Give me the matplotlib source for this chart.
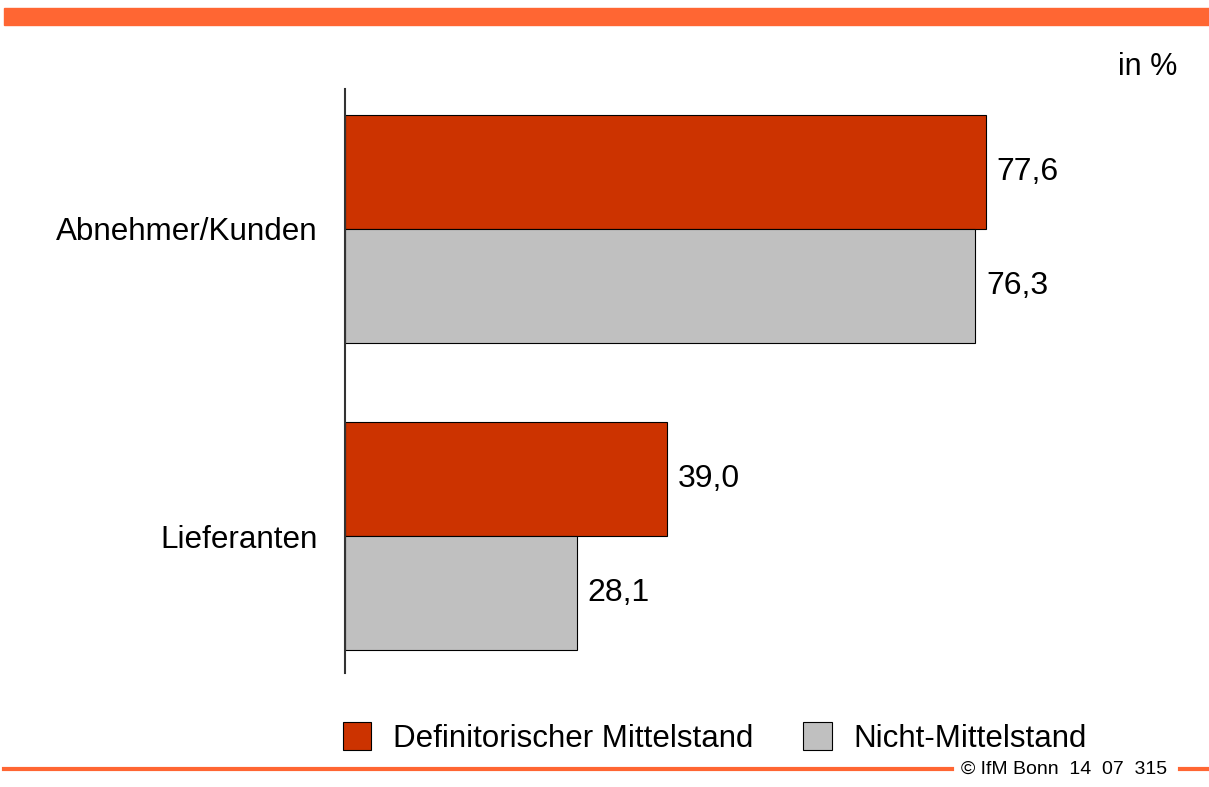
import numpy as np
import matplotlib.pyplot as plt
from matplotlib.patches import Rectangle
from matplotlib.lines import Line2D

plt.rcParams['font.family'] = ['Liberation Sans', 'DejaVu Sans']

categories = ['Abnehmer/Kunden', 'Lieferanten']
series_names = ['Definitorischer Mittelstand', 'Nicht-Mittelstand']
mittelstand = [77.6, 39.0]
nicht_mittelstand = [76.3, 28.1]
colors = ['#CC3300', '#C0C0C0']

W, H = 1209, 787
fig = plt.figure(figsize=(W / 100, H / 100), dpi=100)

# top orange band
fig.patches.append(Rectangle((4 / W, 1 - 25 / H), 1 - 4 / W, 17 / H,
                             transform=fig.transFigure, color='#FF6633', zorder=0))
# bottom line with footer
fig.lines.append(Line2D([4 / W, 952 / W], [1 - 769 / H] * 2, transform=fig.transFigure,
                        color='#FF6633', lw=3))
fig.lines.append(Line2D([1180 / W, 1], [1 - 769 / H] * 2, transform=fig.transFigure,
                        color='#FF6633', lw=3))
fig.text(1064 / W, 1 - 769 / H, '\u00a9 IfM Bonn  14  07  315', fontsize=14,
         ha='center', va='center')
fig.text(1177 / W, 1 - 67 / H, 'in %', fontsize=22, ha='right', va='center')

ax = fig.add_axes([345 / W, (787 - 673) / H, 826 / W, 584 / H])
y = np.arange(len(categories))
h = 114 / 307
b1 = ax.barh(y - h / 2, mittelstand, height=h, color=colors[0], edgecolor='black',
             linewidth=0.8, label=series_names[0])
b2 = ax.barh(y + h / 2, nicht_mittelstand, height=h, color=colors[1], edgecolor='black',
             linewidth=0.8, label=series_names[1])
for bars, vals in [(b1, mittelstand), (b2, nicht_mittelstand)]:
    for bar, v in zip(bars, vals):
        ax.text(v + 1.3, bar.get_y() + bar.get_height() / 2,
                f'{v:.1f}'.replace('.', ','), fontsize=23, va='center', ha='left')

ax.set_xlim(0, 100)
ax.set_ylim(1 + 137 / 307, -140 / 307)
ax.set_yticks(y)
ax.set_yticklabels(categories, fontsize=22.6)
ax.tick_params(axis='y', length=0, pad=19.5)
ax.set_xticks([])
for s in ['top', 'right', 'bottom']:
    ax.spines[s].set_visible(False)
ax.spines['left'].set_linewidth(1.5)
ax.spines['left'].set_color('#333333')

fig.legend(handles=[b1, b2], loc='center left', bbox_to_anchor=(343 / W, 1 - 738 / H),
           ncol=2, frameon=False, fontsize=22.5, handlelength=0.9, handleheight=1.0,
           handletextpad=0.7, columnspacing=1.6, borderpad=0, borderaxespad=0)

plt.savefig('out.png', dpi=100)
